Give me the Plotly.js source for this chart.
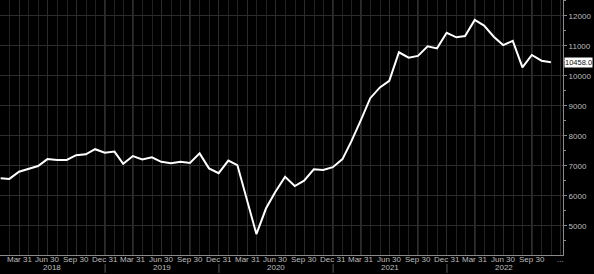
<!DOCTYPE html>
<html>
<head>
<meta charset="utf-8">
<script src="https://cdn.plot.ly/plotly-3.0.1.min.js"></script>
<style>
html,body{margin:0;padding:0;background:#000;}
#chart{width:594px;height:274px;}
</style>
</head>
<body>
<div id="chart"></div>
<script>
// Month-end observation dates
const dates = [
 '2018-01-31','2018-02-28','2018-03-31','2018-04-30','2018-05-31','2018-06-30','2018-07-31','2018-08-31','2018-09-30','2018-10-31','2018-11-30','2018-12-31',
 '2019-01-31','2019-02-28','2019-03-31','2019-04-30','2019-05-31','2019-06-30','2019-07-31','2019-08-31','2019-09-30','2019-10-31','2019-11-30','2019-12-31',
 '2020-01-31','2020-02-29','2020-03-31','2020-04-30','2020-05-31','2020-06-30','2020-07-31','2020-08-31','2020-09-30','2020-10-31','2020-11-30','2020-12-31',
 '2021-01-31','2021-02-28','2021-03-31','2021-04-30','2021-05-31','2021-06-30','2021-07-31','2021-08-31','2021-09-30','2021-10-31','2021-11-30','2021-12-31',
 '2022-01-31','2022-02-28','2022-03-31','2022-04-30','2022-05-31','2022-06-30','2022-07-31','2022-08-31','2022-09-30','2022-10-31','2022-11-30'
];
const values = [
 6590,6570,6810,6900,7000,7230,7200,7200,7360,7390,7560,7440,
 7480,7070,7330,7220,7290,7140,7090,7140,7100,7420,6920,6760,
 7180,7030,5890,4730,5590,6140,6640,6330,6510,6890,6870,6960,
 7230,7810,8530,9260,9620,9840,10790,10610,10670,10990,10920,11440,
 11290,11330,11870,11680,11310,11030,11170,10290,10700,10510,10458
];
const lastLabel = '10458.0';

const quarterTicks = [
 '2018-03-31','2018-06-30','2018-09-30','2018-12-31',
 '2019-03-31','2019-06-30','2019-09-30','2019-12-31',
 '2020-03-31','2020-06-30','2020-09-30','2020-12-31',
 '2021-03-31','2021-06-30','2021-09-30','2021-12-31',
 '2022-03-31','2022-06-30','2022-09-30','2022-12-31'
];
const quarterLabels = [
 'Mar 31','Jun 30','Sep 30','Dec 31',
 'Mar 31','Jun 30','Sep 30','Dec 31',
 'Mar 31','Jun 30','Sep 30','Dec 31',
 'Mar 31','Jun 30','Sep 30','Dec 31',
 'Mar 31','Jun 30','Sep 30','...'
];
const years = ['2018','2019','2020','2021','2022'];
const yearCenters = ['2018-07-15','2019-07-01','2020-07-01','2021-07-01','2022-07-04'];
const yearBoundaries = ['2019-01-01','2020-01-01','2021-01-01','2022-01-01'];

const xRange = ['2018-01-29','2023-01-08'];
const yRange = [4033, 12533];

const axisGray = '#8a8a8a';
const textGray = '#bdbdbd';
const font = {family: 'Arial, "Liberation Sans", sans-serif', size: 8, color: textGray};

const trace = {
  x: dates, y: values, type: 'scatter', mode: 'lines',
  line: {color: '#ffffff', width: 2},
  hoverinfo: 'skip'
};

const annotations = quarterLabels.map((t, i) => ({
  x: quarterTicks[i], xref: 'x', y: -0.018, yref: 'paper',
  text: t, showarrow: false, xanchor: 'center', yanchor: 'middle',
  font: font
}));
years.forEach((t, i) => annotations.push({
  x: yearCenters[i], xref: 'x', y: -0.05, yref: 'paper',
  text: t, showarrow: false, xanchor: 'center', yanchor: 'middle',
  font: font
}));
annotations.push({
  x: 1, xref: 'paper', y: values[values.length - 1], yref: 'y',
  text: lastLabel, showarrow: false, xanchor: 'left', yanchor: 'middle',
  xshift: 1,
  bgcolor: '#ffffff', borderpad: 0,
  font: {family: font.family, size: 7.5, color: '#111111'}
});

const shapes = yearBoundaries.map(d => ({
  type: 'line', xref: 'x', yref: 'paper',
  x0: d, x1: d, y0: -0.035, y1: -0.07,
  line: {color: '#555555', width: 1}
}));

const layout = {
  width: 594, height: 274,
  margin: {l: 0, r: 31, t: 0, b: 19},
  paper_bgcolor: '#000000', plot_bgcolor: '#000000',
  showlegend: false,
  font: font,
  xaxis: {
    type: 'date', range: xRange,
    tickmode: 'array', tickvals: quarterTicks, ticktext: quarterLabels,
    showticklabels: false,
    ticks: '', ticklen: 0,
    showgrid: true, gridcolor: '#2c2c2c', gridwidth: 1,
    minor: {dtick: 'M1', tick0: '2018-01-01', showgrid: true, gridcolor: '#222222', gridwidth: 1, ticks: ''},
    showline: true, linecolor: axisGray, linewidth: 1,
    zeroline: false, fixedrange: true
  },
  yaxis: {
    side: 'right', range: yRange,
    tickmode: 'linear', tick0: 0, dtick: 1000, tickformat: 'd',
    ticks: 'outside', ticklen: 3, tickcolor: axisGray, tickwidth: 1,
    tickfont: font, ticklabelstandoff: 0,
    minor: {dtick: 500, ticks: 'outside', ticklen: 2, tickcolor: axisGray, showgrid: false},
    showgrid: true, gridcolor: '#2c2c2c', gridwidth: 1,
    showline: true, linecolor: axisGray, linewidth: 1,
    zeroline: false, fixedrange: true
  },
  annotations: annotations,
  shapes: shapes
};

Plotly.newPlot('chart', [trace], layout, {displayModeBar: false, staticPlot: true});
</script>
</body>
</html>
